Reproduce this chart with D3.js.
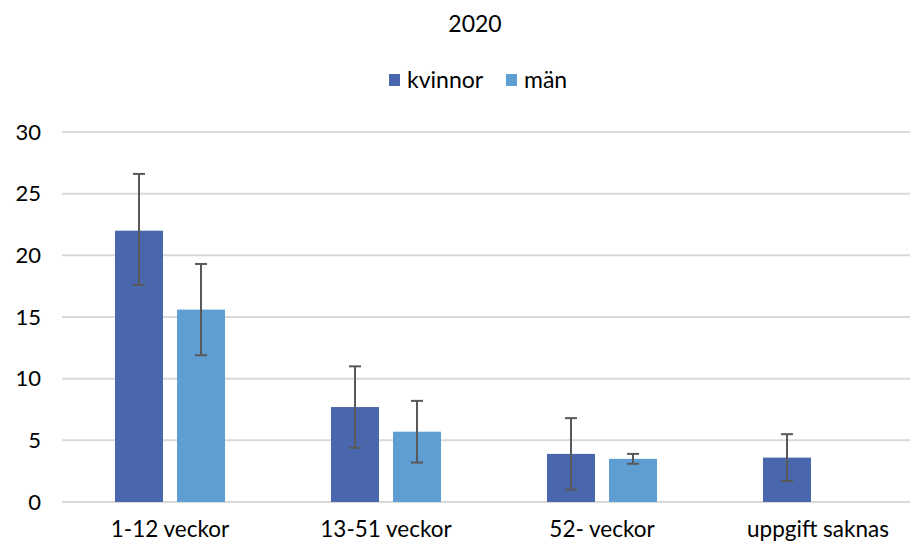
<!DOCTYPE html>
<html><head><meta charset="utf-8">
<script src="https://cdn.jsdelivr.net/npm/d3@7"></script>
<style>body{margin:0;background:#fff;} svg{display:block;} text{font-family:Lato,"Open Sans",sans-serif;fill:#000;}</style>
</head><body><svg id="c" width="910" height="543"></svg>
<script>
const categories = ["1-12 veckor", "13-51 veckor", "52- veckor", "uppgift saknas"];
const seriesNames = ["kvinnor", "män"];
const kvinnor = [22.0, 7.7, 3.9, 3.6];
const kvinnorLow = [17.6, 4.4, 1.0, 1.7];
const kvinnorHigh = [26.6, 11.0, 6.8, 5.5];
const man = [15.6, 5.7, 3.5, null];
const manLow = [11.9, 3.2, 3.1, null];
const manHigh = [19.3, 8.2, 3.9, null];
const yTicks = [0, 5, 10, 15, 20, 25, 30];
const colors = ["#4A66AC", "#5F9ED3"];

const svg = d3.select("#c");
const x0 = d3.scaleBand().domain(categories).range([62, 926]).padding(0);
const x1 = d3.scaleBand().domain(seriesNames).range([x0.bandwidth()/2 - 55, x0.bandwidth()/2 + 55]).paddingInner(0.2258).paddingOuter(0);
const y = d3.scaleLinear().domain([0, 30]).range([502, 132]);

svg.append("g").selectAll("line").data(yTicks).join("line")
  .attr("x1", 62).attr("x2", 910)
  .attr("y1", d => y(d)).attr("y2", d => y(d))
  .attr("stroke", "#d9d9d9").attr("stroke-width", 2);

const yAxis = svg.append("g").attr("transform", "translate(41,0)")
  .call(d3.axisLeft(y).tickValues(yTicks).tickSize(0).tickPadding(0));
yAxis.select(".domain").remove();
yAxis.selectAll("text").style("font-family", "Lato, sans-serif").style("font-size", "22px").attr("fill", "#000");

const xAxis = svg.append("g").attr("transform", "translate(0,520)")
  .call(d3.axisBottom(x0).tickSize(0).tickPadding(0));
xAxis.select(".domain").remove();
xAxis.selectAll("text").style("font-family", "Lato, sans-serif").style("font-size", "22.5px").attr("fill", "#000").attr("dy", "0.75em");

const data = categories.map((c, i) => ({
  cat: c,
  vals: [
    {s: "kvinnor", v: kvinnor[i], lo: kvinnorLow[i], hi: kvinnorHigh[i], ci: 0},
    {s: "män", v: man[i], lo: manLow[i], hi: manHigh[i], ci: 1}
  ].filter(d => d.v != null)
}));

const groups = svg.append("g").selectAll("g").data(data).join("g")
  .attr("transform", d => `translate(${x0(d.cat)},0)`);

groups.selectAll("rect").data(d => d.vals).join("rect")
  .attr("x", d => x1(d.s)).attr("width", x1.bandwidth())
  .attr("y", d => y(d.v)).attr("height", d => y(0) - y(d.v))
  .attr("fill", d => colors[d.ci]);

const eb = groups.selectAll("g.eb").data(d => d.vals).join("g").attr("class", "eb")
  .attr("stroke", "#595959").attr("stroke-width", 2);
eb.append("line").attr("x1", d => x1(d.s) + x1.bandwidth()/2).attr("x2", d => x1(d.s) + x1.bandwidth()/2)
  .attr("y1", d => y(d.lo)).attr("y2", d => y(d.hi));
eb.append("line").attr("x1", d => x1(d.s) + x1.bandwidth()/2 - 6).attr("x2", d => x1(d.s) + x1.bandwidth()/2 + 6)
  .attr("y1", d => y(d.hi)).attr("y2", d => y(d.hi));
eb.append("line").attr("x1", d => x1(d.s) + x1.bandwidth()/2 - 6).attr("x2", d => x1(d.s) + x1.bandwidth()/2 + 6)
  .attr("y1", d => y(d.lo)).attr("y2", d => y(d.lo));

svg.append("text").attr("x", 475).attr("y", 32).attr("text-anchor", "middle")
  .style("font-size", "23px").text("2020");

const legendX = [389, 506];
const leg = svg.append("g").selectAll("g").data(seriesNames).join("g")
  .attr("transform", (d, i) => `translate(${legendX[i]},74)`);
leg.append("rect").attr("width", 11).attr("height", 12).attr("fill", (d, i) => colors[i]);
leg.append("text").attr("x", 18).attr("y", 14).style("font-size", "23px").text(d => d);
</script></body></html>
